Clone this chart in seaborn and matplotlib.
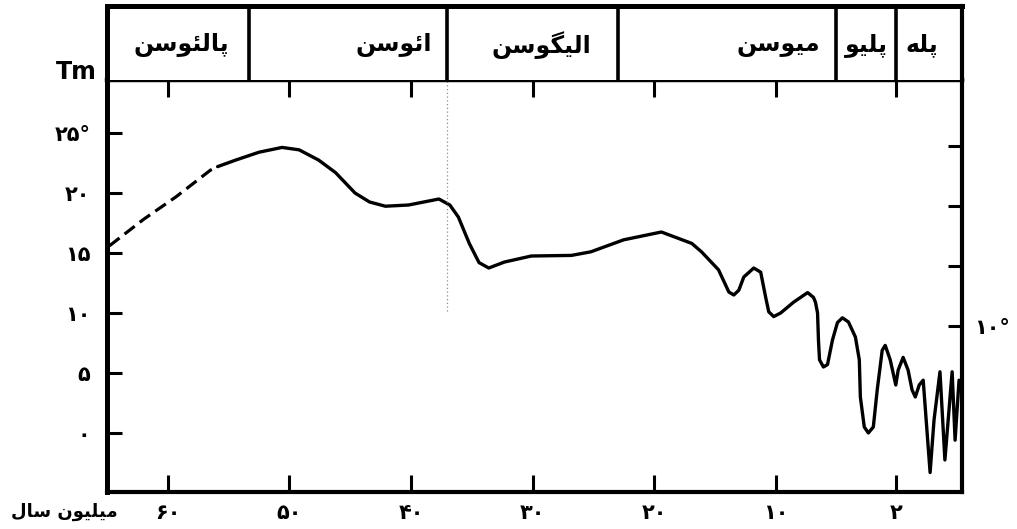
import numpy as np
import matplotlib
matplotlib.use("Agg")
import matplotlib.pyplot as plt
import seaborn as sns

# --- data (ages in million years, temperature in degrees) ---
# dashed start of the curve (Paleocene)
dash_age = [64.8, 62.0, 59.3, 56.5, 55.9]
dash_temp = [15.6, 17.8, 19.7, 21.9, 22.2]

# solid curve
curve_age = [55.9, 54.4, 52.5, 50.6, 49.2, 47.6, 46.2, 44.6, 43.4, 42.1,
             40.2, 37.7, 36.8, 36.1, 35.2, 34.4, 33.6, 32.3, 30.1, 26.8,
             25.2, 22.5, 19.4, 16.9, 16.1, 14.7, 13.85, 13.44, 13.03, 12.62,
             11.80, 11.23, 10.82, 10.57, 10.16, 9.67, 8.81, 7.88, 7.49, 7.36,
             7.22, 7.16, 7.09, 6.83, 6.56, 6.23, 5.90, 5.57, 5.17, 4.71,
             4.45, 4.38, 4.12, 3.85, 3.52, 3.26, 2.93, 2.73, 2.40, 2.03,
             1.94, 1.79, 1.64, 1.52, 1.42, 1.30, 1.18, 1.09, 0.97, 0.85,
             0.67, 0.52, 0.30, 0.21, 0.09]
curve_temp = [22.2, 22.75, 23.4, 23.8, 23.6, 22.75, 21.7, 20.0, 19.25, 18.9,
              19.0, 19.5, 19.0, 18.0, 15.8, 14.2, 13.75, 14.25, 14.75, 14.8,
              15.1, 16.1, 16.75, 15.8, 15.1, 13.6, 11.75, 11.5, 11.9, 13.0,
              13.75, 13.4, 11.3, 10.1, 9.7, 10.0, 10.9, 11.7, 11.3, 10.9,
              10.0, 7.75, 6.1, 5.5, 5.7, 7.75, 9.2, 9.6, 9.25, 8.0,
              6.1, 3.0, 0.5, 0.0, 0.5, 3.6, 6.9, 7.3, 6.1, 4.0,
              5.25, 6.3, 5.25, 3.6, 3.0, 4.0, 4.4, 1.1, -3.3, 1.1,
              5.1, -2.25, 5.1, -0.6, 4.4]

# epochs (header boxes)
epoch_names = ["پالئوسن", "ائوسن", "الیگوسن", "میوسن", "پلیو", "پله"]
epoch_bounds = [65, 53.3, 37, 23, 6, 2, 0]
epoch_label_at = [58.9, 41.4, 29.3, 9.8, 3.98, 1.21]

x_ticks = [60, 50, 40, 30, 20, 10, 2]
x_labels = ["۶۰", "۵۰", "۴۰", "۳۰", "۲۰", "۱۰", "۲"]
y_ticks = [0, 5, 10, 15, 20, 25]
y_labels = ["۰", "۵", "۱۰", "۱۵", "۲۰", "۲۵°"]
right_ticks = [10, 15, 20, 25]
right_labels = ["۱۰°", "", "", ""]

# --- simple Persian shaping (matplotlib does no Arabic shaping) ---
FORMS = {
    'ا': ('\uFE8D', '\uFE8E', None, None),
    'و': ('\uFEED', '\uFEEE', None, None),
    'ل': ('\uFEDD', '\uFEDE', '\uFEDF', '\uFEE0'),
    'ئ': ('\uFE89', '\uFE8A', '\uFE8B', '\uFE8C'),
    'س': ('\uFEB1', '\uFEB2', '\uFEB3', '\uFEB4'),
    'ن': ('\uFEE5', '\uFEE6', '\uFEE7', '\uFEE8'),
    'م': ('\uFEE1', '\uFEE2', '\uFEE3', '\uFEE4'),
    'ه': ('\uFEE9', '\uFEEA', '\uFEEB', '\uFEEC'),
    'پ': ('\uFB56', '\uFB57', '\uFB58', '\uFB59'),
    'گ': ('\uFB92', '\uFB93', '\uFB94', '\uFB95'),
    'ی': ('\uFBFC', '\uFBFD', '\uFBFE', '\uFBFF'),
}


def farsi(text):
    out = []
    for i, ch in enumerate(text):
        if ch not in FORMS:
            out.append(ch)
            continue
        prev = text[i - 1] if i > 0 else ''
        nxt = text[i + 1] if i + 1 < len(text) else ''
        joins_prev = prev in FORMS and FORMS[prev][2] is not None
        joins_next = FORMS[ch][2] is not None and nxt in FORMS
        iso, fin, ini, med = FORMS[ch]
        if joins_prev and joins_next:
            out.append(med)
        elif joins_prev:
            out.append(fin)
        elif joins_next:
            out.append(ini)
        else:
            out.append(iso)
    return ''.join(reversed(out))


# piecewise age scale of the original drawing (young end is stretched)
age_pts = [0, 2, 10, 65]
pos_pts = [0, 66, 187, 858]


def fwd(a):
    return np.interp(a, age_pts, pos_pts)


def inv(p):
    return np.interp(p, pos_pts, age_pts)


sns.set_theme(style="white")
plt.rcParams['font.family'] = ['DejaVu Sans']
plt.rcParams['font.weight'] = 'bold'

W, H = 1017, 529
fig = plt.figure(figsize=(W / 100, H / 100), dpi=100)

L, R, T_head, T_main, B = 107, 962, 6, 80, 492
ax = fig.add_axes([L / W, 1 - B / H, (R - L) / W, (B - T_main) / H])
ax.set_xscale('function', functions=(fwd, inv))
ax_h = fig.add_axes([L / W, 1 - T_main / H, (R - L) / W, (T_main - T_head) / H], sharex=ax)

sns.lineplot(x=dash_age, y=dash_temp, ax=ax, color='black', linewidth=2.3,
             linestyle=(0, (4, 2)), sort=False, estimator=None)
sns.lineplot(x=curve_age, y=curve_temp, ax=ax, color='black', linewidth=2.4,
             sort=False, estimator=None, solid_joinstyle='round', solid_capstyle='round')

ax.set_xlim(65, 0)
y_lo, y_hi = -4.92, 29.42
ax.set_ylim(y_lo, y_hi)
ax.set_xlabel('')
ax.set_ylabel('')

ax.set_xticks(x_ticks)
ax.set_xticklabels(x_labels)
ax.set_yticks(y_ticks)
ax.set_yticklabels(y_labels)
ax.tick_params(axis='x', direction='in', length=12, width=2.2, top=True, bottom=True,
               labelsize=15, pad=8, colors='black')
ax.tick_params(axis='y', direction='in', length=11, width=2.2, left=True, right=False,
               labelsize=15, pad=12, colors='black')
ax.xaxis.set_minor_locator(matplotlib.ticker.NullLocator())

for side, w in [('left', 3.6), ('bottom', 3.0), ('right', 3.0), ('top', 3.2)]:
    ax.spines[side].set_visible(True)
    ax.spines[side].set_color('black')
    ax.spines[side].set_linewidth(w)

# right side ticks (scan is slightly skewed there)
ax_r = ax.twinx()
ax_r.set_ylim(y_lo + 1.1, y_hi + 1.1)
ax_r.set_yticks(right_ticks)
ax_r.set_yticklabels(right_labels)
ax_r.tick_params(axis='y', direction='in', length=10, width=2.2, right=True,
                 labelsize=15, pad=9, colors='black')
for s in ax_r.spines.values():
    s.set_visible(False)

# faint dotted line at the Eocene/Oligocene boundary
ax.axvline(37, ymin=0.44, ymax=1, color='0.55', lw=0.9, ls=(0, (1, 2)))
ax_h.axvline(37, color='0.55', lw=0.9, ls=(0, (1, 2)))

# header with epoch names
ax_h.set_ylim(0, 1)
ax_h.tick_params(axis='both', length=0, labelbottom=False, labelleft=False,
                 labeltop=False)
for side, w in [('left', 3.6), ('top', 3.6), ('right', 3.0)]:
    ax_h.spines[side].set_color('black')
    ax_h.spines[side].set_linewidth(w)
ax_h.spines['bottom'].set_visible(False)
for b in epoch_bounds[1:-1]:
    ax_h.axvline(b, color='black', lw=2.6)
for name, at in zip(epoch_names, epoch_label_at):
    ax_h.text(at, 0.47, farsi(name), ha='center', va='center', fontsize=17,
              fontweight='bold', color='black')

fig.text(97 / W, 1 - 79 / H, "Tm", ha='right', va='baseline', fontsize=17,
         fontweight='bold', color='black')
fig.text(118 / W, 1 - 512 / H, farsi("میلیون سال"), ha='right', va='center',
         fontsize=13, fontweight='bold', color='black')

fig.savefig("out.png", dpi=100)
